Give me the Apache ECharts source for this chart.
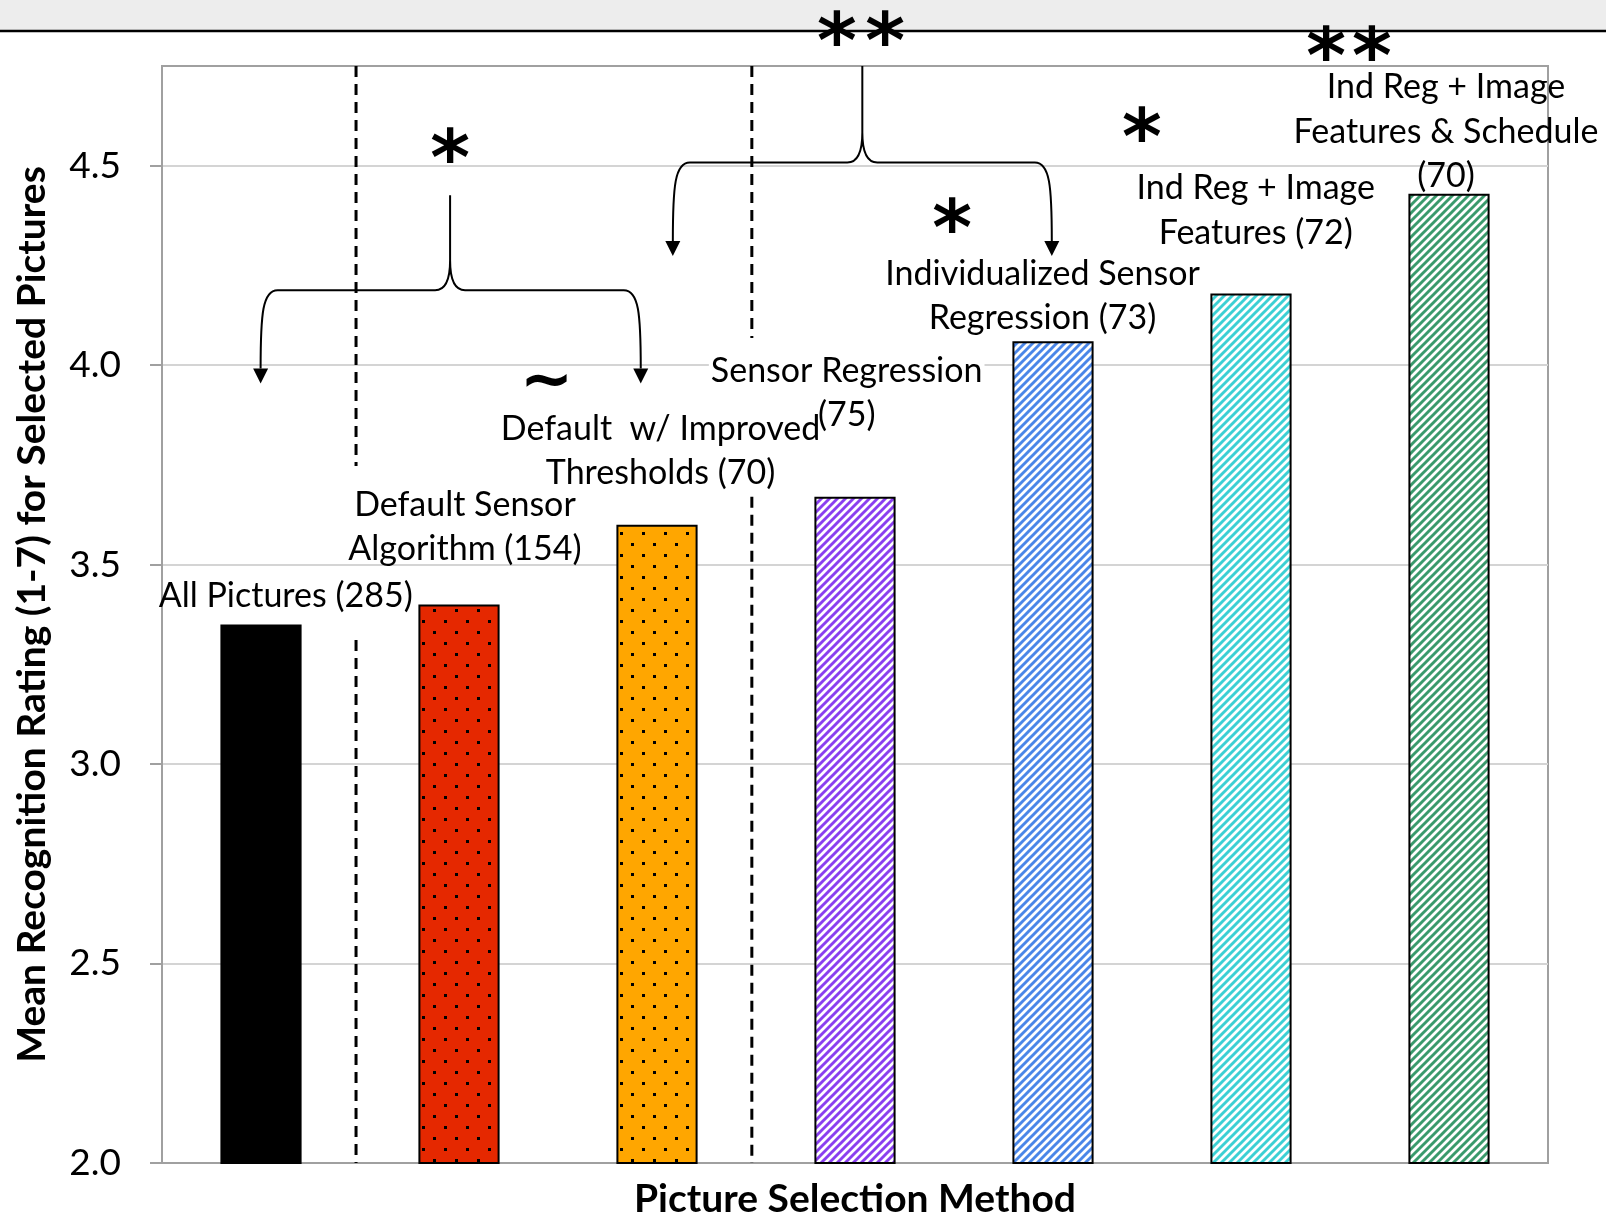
<!DOCTYPE html>
<html><head><meta charset="utf-8">
<script src="https://cdn.jsdelivr.net/npm/echarts@6/dist/echarts.min.js"></script>
<style>html,body{margin:0;padding:0;background:#fff}#c{width:1606px;height:1215px}</style>
</head><body><div id="c"></div>
<script>
// ---------- data ----------
const categories = [
  'All Pictures (285)',
  'Default Sensor Algorithm (154)',
  'Default  w/ Improved Thresholds (70)',
  'Sensor Regression (75)',
  'Individualized Sensor Regression (73)',
  'Ind Reg + Image Features (72)',
  'Ind Reg + Image Features & Schedule (70)'
];
const meanRatings = [3.35, 3.40, 3.60, 3.67, 4.06, 4.18, 4.43];
const yTickValues = [2.0, 2.5, 3.0, 3.5, 4.0, 4.5];
const barLabelLines = [
  ['All Pictures (285)'],
  ['Default Sensor', 'Algorithm (154)'],
  ['Default  w/ Improved', 'Thresholds (70)'],
  ['Sensor Regression', '(75)'],
  ['Individualized Sensor', 'Regression (73)'],
  ['Ind Reg + Image', 'Features (72)'],
  ['Ind Reg + Image', 'Features & Schedule', '(70)']
];
const starMarks = ['*', '*', '*', '*', '*', '*', '*'];
const tildeMarks = ['~'];
const yAxisTitle = 'Mean Recognition Rating (1-7) for Selected Pictures';
const xAxisTitle = 'Picture Selection Method';

// ---------- layout (annotation anchors, in axis units) ----------
const labelAnchors = [[0.125, 3.429], [1.030, 3.602], [2.018, 3.792], [2.958, 3.938], [3.947, 4.181], [5.024, 4.395], [5.985, 4.592]];
const labelOpaqueFirstLine = [false, false, false, true, false, false, false];
const starAnchors = [[0.955, 4.544], [2.909, 4.837], [3.152, 4.837], [4.449, 4.597], [3.490, 4.368], [5.379, 4.800], [5.611, 4.800]];
const tildeAnchors = [[1.442, 3.955]];
// brace: [xLeftTip, xRightTip, xCenter, yBar, yPeak, yTip]
const braceAnchors = [[-0.002, 1.918, 0.955, 4.188, 4.426, 3.954], [2.080, 3.994, 3.037, 4.508, 4.75, 4.274]];
// dashed separators: [x, yTop, yBottom]
const dividerSegments = [[0.480, 4.75, 3.747], [0.480, 3.311, 2.0], [2.479, 4.75, 4.068], [2.479, 3.670, 2.0]];

// ---------- styles ----------
function stripes(color) {
  const s = 8, c = document.createElement('canvas');
  c.width = s; c.height = s;
  const g = c.getContext('2d');
  g.fillStyle = '#fff'; g.fillRect(0, 0, s, s);
  g.strokeStyle = color; g.lineWidth = 2.9;
  g.beginPath();
  g.moveTo(0, s); g.lineTo(s, 0);
  g.moveTo(-s / 2, s / 2); g.lineTo(s / 2, -s / 2);
  g.moveTo(s / 2, 1.5 * s); g.lineTo(1.5 * s, s / 2);
  g.stroke();
  return { image: c, repeat: 'repeat' };
}
function dots(color) {
  const w = 22, h = 22, c = document.createElement('canvas');
  c.width = w; c.height = h;
  const g = c.getContext('2d');
  g.fillStyle = color; g.fillRect(0, 0, w, h);
  g.fillStyle = '#000';
  g.fillRect(4, 4, 3, 3); g.fillRect(15, 15, 3, 3);
  return { image: c, repeat: 'repeat' };
}
const barFills = ['#000000', dots('#e52800'), dots('#ffa600'), stripes('#8a3ff0'), stripes('#4a86e8'), stripes('#3cd0d4'), stripes('#3a9a6c')];

const FONT = 'Lato';
const LINE_H = 44.5;
const chart = echarts.init(document.getElementById('c'));

const option = {
  animation: false,
  backgroundColor: '#ffffff',
  graphic: [
    { type: 'rect', z: 0, shape: { x: 0, y: 0, width: 1606, height: 30 }, style: { fill: '#ededed' } },
    { type: 'line', z: 1, shape: { x1: 0, y1: 31, x2: 1606, y2: 31 }, style: { stroke: '#000', lineWidth: 2.5 } }
  ],
  grid: { left: 162, right: 58, top: 66, bottom: 52, show: true, borderColor: '#a0a0a0', borderWidth: 2, containLabel: false, outerBoundsMode: 'none' },
  xAxis: [
    {
      type: 'category', data: categories,
      axisLine: { show: true, onZero: false, lineStyle: { color: '#a0a0a0', width: 2 } },
      axisTick: { show: false }, axisLabel: { show: false }, splitLine: { show: false },
      name: xAxisTitle, nameLocation: 'middle', nameGap: 17,
      nameTextStyle: { fontFamily: FONT, fontWeight: 'bold', fontSize: 39, color: '#000' }
    },
    { type: 'value', min: -0.5, max: 6.5, show: false }
  ],
  yAxis: {
    type: 'value', min: 2, max: 4.75, interval: 0.5,
    axisLine: { show: true, onZero: false, lineStyle: { color: '#a0a0a0', width: 2 } },
    axisTick: { show: true, inside: false, length: 12, lineStyle: { color: '#a0a0a0', width: 2 }, customValues: yTickValues },
    axisLabel: { customValues: yTickValues, formatter: v => Number(v).toFixed(1), margin: 41, fontFamily: FONT, fontSize: 37, color: '#000' },
    splitLine: { show: true, lineStyle: { color: '#d4d4d4', width: 2 } },
    name: yAxisTitle, nameLocation: 'middle', nameGap: 110,
    nameTextStyle: { fontFamily: FONT, fontWeight: 'bold', fontSize: 39, color: '#000' }
  },
  series: [
    {
      type: 'bar', xAxisIndex: 0, yAxisIndex: 0, barWidth: '41%', z: 3,
      itemStyle: { borderColor: '#000', borderWidth: 2 },
      data: meanRatings.map((v, i) => ({ value: v, itemStyle: { color: barFills[i] } }))
    },
    {
      type: 'custom', xAxisIndex: 1, yAxisIndex: 0, z: 4, clip: false, silent: true,
      data: dividerSegments,
      renderItem: (p, api) => {
        const a = api.coord([api.value(0), api.value(1)]), b = api.coord([api.value(0), api.value(2)]);
        return { type: 'line', shape: { x1: a[0], y1: a[1], x2: b[0], y2: b[1] }, style: { stroke: '#000', lineWidth: 3, lineDash: [11, 7] } };
      }
    },
    {
      type: 'custom', xAxisIndex: 1, yAxisIndex: 0, z: 6, clip: false, silent: true,
      data: braceAnchors,
      renderItem: (p, api) => {
        const x1 = api.value(0), x2 = api.value(1), xm = api.value(2), yb = api.value(3), yp = api.value(4), yt = api.value(5);
        const pL = api.coord([x1, yt]), pR = api.coord([x2, yt]), pM = api.coord([xm, yp]), bar = api.coord([xm, yb])[1];
        const ah = 15, aw = 7.5, cr = 17, cu = 15;
        const baseY = pL[1] - ah, d = baseY - bar;
        const path = [
          'M', pL[0], baseY,
          'C', pL[0], bar + 0.3 * d, pL[0] + 2, bar, pL[0] + cr, bar,
          'L', pM[0] - cu, bar,
          'C', pM[0] - 5, bar, pM[0], bar - 10, pM[0], bar - 30,
          'L', pM[0], pM[1],
          'M', pM[0], bar - 30,
          'C', pM[0], bar - 10, pM[0] + 5, bar, pM[0] + cu, bar,
          'L', pR[0] - cr, bar,
          'C', pR[0] - 2, bar, pR[0], bar + 0.3 * d, pR[0], baseY
        ].join(' ');
        return {
          type: 'group', children: [
            { type: 'path', shape: { pathData: path }, style: { fill: 'none', stroke: '#000', lineWidth: 2 } },
            { type: 'polygon', shape: { points: [[pL[0] - aw, baseY], [pL[0] + aw, baseY], [pL[0], pL[1]]] }, style: { fill: '#000' } },
            { type: 'polygon', shape: { points: [[pR[0] - aw, baseY], [pR[0] + aw, baseY], [pR[0], pR[1]]] }, style: { fill: '#000' } }
          ]
        };
      }
    },
    {
      type: 'custom', xAxisIndex: 1, yAxisIndex: 0, z: 7, clip: false, silent: true,
      data: labelAnchors,
      renderItem: (p, api) => {
        const c = api.coord([api.value(0), api.value(1)]);
        const i = p.dataIndex, lines = barLabelLines[i], n = lines.length;
        return {
          type: 'group',
          children: lines.map((t, k) => {
            const opaque = labelOpaqueFirstLine[i] && k === 0;
            return {
              type: 'text', x: c[0], y: c[1] + 3 + (k - (n - 1) / 2) * LINE_H,
              style: {
                text: t, fontFamily: FONT, fontSize: 34,
                fill: '#000', align: 'center', verticalAlign: 'middle',
                backgroundColor: opaque ? '#fff' : null, padding: opaque ? [0, 2] : 0
              }
            };
          })
        };
      }
    },
    {
      type: 'custom', xAxisIndex: 1, yAxisIndex: 0, z: 8, clip: false, silent: true,
      data: starAnchors,
      renderItem: (p, api) => {
        const c = api.coord([api.value(0), api.value(1)]);
        return {
          type: 'text', x: c[0], y: c[1] + 16,
          style: { text: starMarks[p.dataIndex], fontFamily: 'DejaVu Sans', fontWeight: 'bold', fontSize: 76, fill: '#000', align: 'center', verticalAlign: 'middle' }
        };
      }
    },
    {
      type: 'custom', xAxisIndex: 1, yAxisIndex: 0, z: 8, clip: false, silent: true,
      data: tildeAnchors,
      renderItem: (p, api) => {
        const c = api.coord([api.value(0), api.value(1)]);
        return {
          type: 'text', x: c[0], y: c[1],
          style: { text: tildeMarks[p.dataIndex], fontFamily: 'DejaVu Sans', fontWeight: 'bold', fontSize: 64, fill: '#000', align: 'center', verticalAlign: 'middle' }
        };
      }
    }
  ]
};
chart.setOption(option);
</script>
</body></html>
